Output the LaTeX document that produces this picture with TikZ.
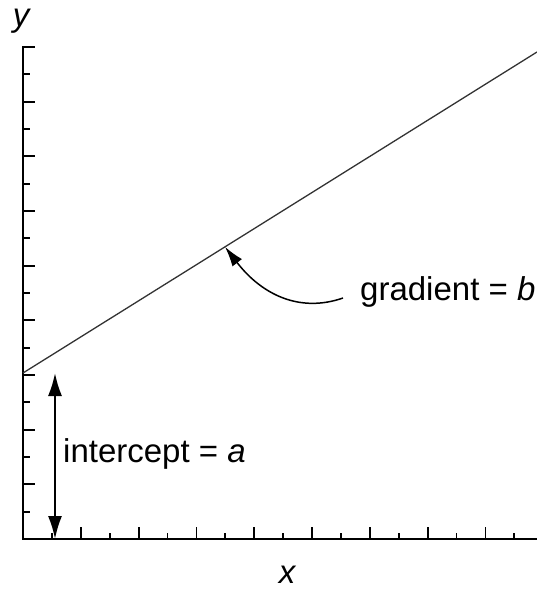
\documentclass[tikz,border=0pt]{standalone}
\usepackage{fontspec}
\setmainfont{Liberation Sans}
\usetikzlibrary{arrows.meta}
\begin{document}
\begin{tikzpicture}[x=1pt,y=-1pt,every node/.style={inner sep=0pt},font=\fontsize{33}{40}\selectfont]
\tikzstyle{axis}=[draw,line width=2pt,line cap=rect]
\tikzstyle{tick}=[draw,line width=1.8pt]
\tikzstyle{fitline}=[draw,line width=1.3pt,black!80]
\tikzstyle{dblarrow}=[draw,line width=2pt,{Latex[length=23pt,width=14pt]}-{Latex[length=23pt,width=14pt]}]
\tikzstyle{arrow}=[draw,line width=1.5pt,-{Latex[length=20pt,width=12pt]}]
\useasboundingbox (0,0) rectangle (537,591);

\coordinate (O) at (23,539);
\coordinate (ytop) at (23,47);
\coordinate (xend) at (537,539);

% ticks on y axis (spacing 27.33) and x axis (spacing 28.9)
\foreach \k in {2,4,...,18} \draw[tick] (23,539-\k*27.33) -- ++(12,0);
\foreach \k in {1,3,...,17} \draw[tick] (23,539-\k*27.33) -- ++(7,0);
\foreach \k in {2,4,...,16} \draw[tick] (23+\k*28.9,539) -- ++(0,-12);
\foreach \k in {1,3,...,17} \draw[tick] (23+\k*28.9,539) -- ++(0,-6);
\draw[axis] (ytop) -- (O) -- (xend);

\node[anchor=base,font=\fontsize{33}{40}\selectfont\itshape] (ylab) at (21,27) {y};
\node[anchor=base,font=\fontsize{33}{40}\selectfont\itshape] (xlab) at (287,583) {x};

% fitted line
\coordinate (a) at (23,373);
\coordinate (e) at (537,52);
\draw[fitline] (a) -- (e);
\path (a) -- (e) coordinate[pos=0.393] (g);

% intercept
\coordinate (itop) at (55,373);
\coordinate (ibot) at (55,539);
\draw[dblarrow] (ibot) -- (itop);
\node[anchor=base west] (intercept) at (63,462) {intercept = \textit{a}};

% gradient
\node[anchor=base west] (gradient) at (360,300) {gradient = \textit{b}};
\coordinate (gstart) at (343,298);
\draw[arrow] (gstart) .. controls (300,313) and (262,295) .. (g);
\end{tikzpicture}
\end{document}
